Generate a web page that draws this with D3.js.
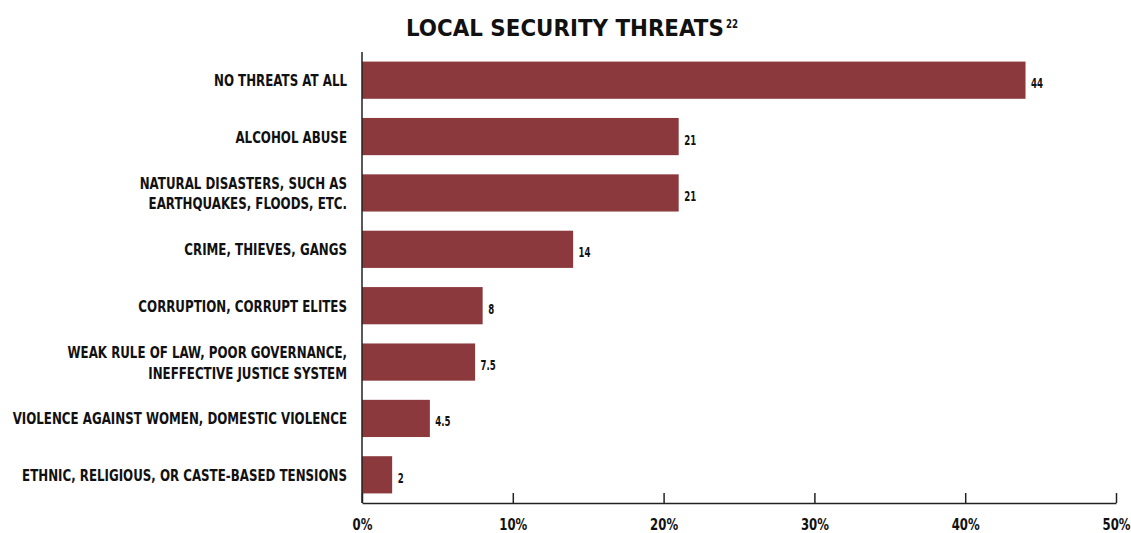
<!DOCTYPE html>
<html>
<head>
<meta charset="utf-8">
<script src="https://cdn.jsdelivr.net/npm/d3@7"></script>
<style>
  body { margin: 0; background: #fff; }
  svg text { font-family: "DejaVu Sans", "Liberation Sans", sans-serif; font-weight: bold; fill: #111; }
</style>
</head>
<body>
<svg id="chart" width="1131" height="533"></svg>
<script>
const categories = [
  ["NO THREATS AT ALL"],
  ["ALCOHOL ABUSE"],
  ["NATURAL DISASTERS, SUCH AS", "EARTHQUAKES, FLOODS, ETC."],
  ["CRIME, THIEVES, GANGS"],
  ["CORRUPTION, CORRUPT ELITES"],
  ["WEAK RULE OF LAW, POOR GOVERNANCE,", "INEFFECTIVE JUSTICE SYSTEM"],
  ["VIOLENCE AGAINST WOMEN, DOMESTIC VIOLENCE"],
  ["ETHNIC, RELIGIOUS, OR CASTE-BASED TENSIONS"]
];
const values = [44, 21, 21, 14, 8, 7.5, 4.5, 2];
const valueLabels = ["44", "21", "21", "14", "8", "7.5", "4.5", "2"];
const xTicks = [0, 10, 20, 30, 40, 50];

const svg = d3.select("#chart");
const plotLeft = 362, plotRight = 1116, plotTop = 52, plotBottom = 503;

// The lettering is a condensed face; squeeze the installed sans horizontally.
function squeeze(sel, k, ax, ay) {
  sel.attr("x", 0).attr("y", 0).attr("transform", `translate(${ax},${ay}) scale(${k},1)`);
}
// Horizontal squeeze factor so a sample string spans the wanted width.
function fitFactor(sample, size, width) {
  const t = svg.append("text").attr("font-size", size).text(sample);
  const w = t.node().getComputedTextLength();
  t.remove();
  return width / w;
}

const x = d3.scaleLinear().domain([0, 50]).range([plotLeft, plotRight]);
const y = d3.scaleBand().domain(d3.range(categories.length)).range([plotTop, plotBottom]).paddingInner(0.34).paddingOuter(0.17);
const yMid = i => y(i) + y.bandwidth() / 2;

// bars
svg.selectAll("rect.bar").data(values).join("rect")
  .attr("class", "bar")
  .attr("x", x(0))
  .attr("y", (d, i) => y(i))
  .attr("width", d => x(d) - x(0))
  .attr("height", y.bandwidth())
  .attr("fill", "#8c393e");

// value labels
const kVal = fitFactor("44", 13.5, 12);
svg.selectAll("text.val").data(values).join("text")
  .attr("class", "val")
  .attr("font-size", 13.5)
  .text((d, i) => valueLabels[i])
  .each(function (d, i) { squeeze(d3.select(this), kVal, x(d) + 5.5, yMid(i) + 8); });

// category labels
const catSize = 16.5;
const kCat = fitFactor("ETHNIC, RELIGIOUS, OR CASTE-BASED TENSIONS", catSize, 325);
svg.selectAll("g.cat").data(categories).join("g")
  .attr("class", "cat")
  .each(function (lines, i) {
    const g = d3.select(this);
    const first = yMid(i) + 6 - (lines.length - 1) * 10;
    lines.forEach((t, j) => {
      const txt = g.append("text").attr("text-anchor", "end").attr("font-size", catSize).text(t);
      squeeze(txt, kCat, plotLeft - 15, first + j * 20.5);
    });
  });

// x axis with upward ticks
const xAxis = d3.axisBottom(x).tickValues(xTicks).tickFormat(d => d + "%").tickSizeInner(-10).tickSizeOuter(0);
const gx = svg.append("g").attr("transform", `translate(0,${plotBottom})`).call(xAxis);
gx.select(".domain").attr("stroke", "#222").attr("stroke-width", 1.5);
gx.selectAll(".tick line").attr("stroke", "#222").attr("stroke-width", 1.5);
const kTick = fitFactor("10%", 16, 28);
gx.selectAll(".tick text")
  .attr("font-size", 16).attr("fill", "#111").attr("dy", null)
  .style("font-family", '"DejaVu Sans", sans-serif').style("font-weight", "bold")
  .each(function () { squeeze(d3.select(this), kTick, 0, 26.5); });

// y axis line
svg.append("line")
  .attr("x1", plotLeft).attr("x2", plotLeft)
  .attr("y1", plotTop).attr("y2", plotBottom)
  .attr("stroke", "#222").attr("stroke-width", 1.5);

// title with superscript note number
const titleSize = 23;
const kTitle = fitFactor("LOCAL SECURITY THREATS", titleSize, 318);
const title = svg.append("text").attr("font-size", titleSize).text("LOCAL SECURITY THREATS");
squeeze(title, kTitle, 406, 35.5);
const kNote = fitFactor("22", 12, 12);
const note = svg.append("text").attr("font-size", 12).text("22");
squeeze(note, kNote, 726, 28);
</script>
</body>
</html>
